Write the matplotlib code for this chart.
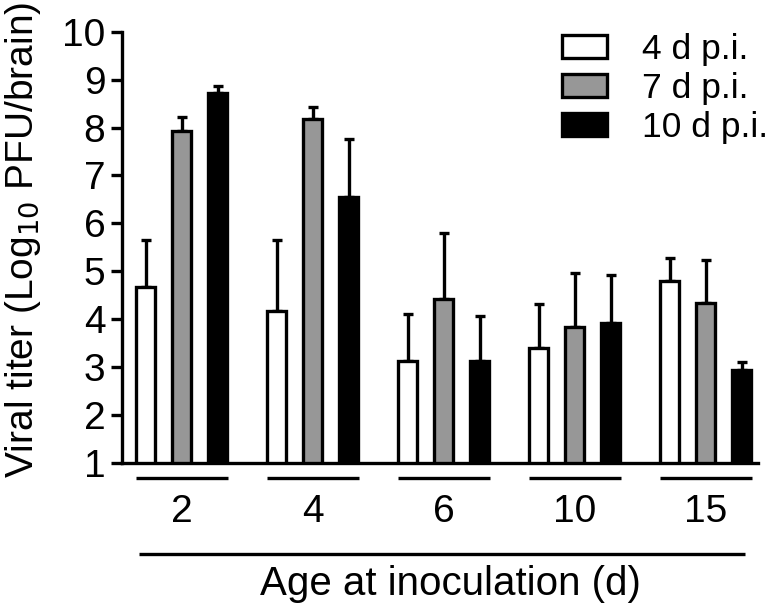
import numpy as np
import matplotlib
matplotlib.use("Agg")
import matplotlib.pyplot as plt
from matplotlib.patches import Patch
from matplotlib.transforms import blended_transform_factory

plt.rcParams['font.family'] = ['Liberation Sans', 'DejaVu Sans']

# data (log10 PFU/brain, mean and upper error)
ages = ['2', '4', '6', '10', '15']
series = ['4 d p.i.', '7 d p.i.', '10 d p.i.']
mean_4d = [4.66, 4.16, 3.12, 3.40, 4.80]
err_4d = [1.00, 1.50, 0.99, 0.92, 0.47]
mean_7d = [7.92, 8.19, 4.41, 3.83, 4.33]
err_7d = [0.30, 0.24, 1.38, 1.14, 0.90]
mean_10d = [8.73, 6.56, 3.13, 3.92, 2.94]
err_10d = [0.14, 1.20, 0.93, 1.00, 0.17]

colors = ['white', '#979797', 'black']
lw = 2.4

fig = plt.figure(figsize=(7.71, 6.03), dpi=100)
ax = fig.add_axes([0.1582, 0.233, 0.825, 0.714])

x = np.arange(len(ages))
off = 0.275
w = 0.145
for i, (m, e) in enumerate([(mean_4d, err_4d), (mean_7d, err_7d), (mean_10d, err_10d)]):
    m = np.array(m)
    e = np.array(e)
    xs = x + (i - 1) * off
    ax.errorbar(xs, m, yerr=[np.zeros_like(e), e], fmt='none', ecolor='black',
                elinewidth=lw, capsize=3.6, capthick=lw, zorder=2)
    ax.bar(xs, m - 1, bottom=1, width=w, color=colors[i], edgecolor='black',
           linewidth=lw, zorder=3)

ax.set_ylim(1, 10)
ax.set_xlim(-0.458, 4.40)
ax.set_yticks(range(1, 11))
ax.set_xticks([])
for s in ['top', 'right']:
    ax.spines[s].set_visible(False)
for s in ['left', 'bottom']:
    ax.spines[s].set_linewidth(lw)
ax.tick_params(axis='y', direction='out', length=8, width=lw, labelsize=28, pad=4)

tr = blended_transform_factory(ax.transData, ax.transAxes)
for xi, lab in zip(x, ages):
    ax.plot([xi - 0.35, xi + 0.35], [-0.037, -0.037], color='black', lw=lw,
            transform=tr, clip_on=False, solid_capstyle='butt')
    ax.text(xi, -0.114, lab, transform=tr, ha='center', va='center', fontsize=28)
ax.plot([-0.33, 4.30], [-0.212, -0.212], color='black', lw=lw,
        transform=tr, clip_on=False, solid_capstyle='butt')
ax.text(2.05, -0.283, 'Age at inoculation (d)', transform=tr, ha='center',
        va='center', fontsize=29)

fig.text(0.030, 1 - 240 / 603, 'Viral titer (Log$_{10}$ PFU/brain)', rotation=90,
         ha='center', va='center', fontsize=28)

handles = [Patch(facecolor=c, edgecolor='black', linewidth=lw) for c in colors]
ax.legend(handles, series, loc='upper left', bbox_to_anchor=(562 / 771, 1 - 33 / 603),
          bbox_transform=fig.transFigure, frameon=False, fontsize=25.5,
          handlelength=1.28, handleheight=0.6, handletextpad=0.98,
          labelspacing=0.17, borderpad=0, borderaxespad=0)

fig.savefig('out.png', dpi=100)
